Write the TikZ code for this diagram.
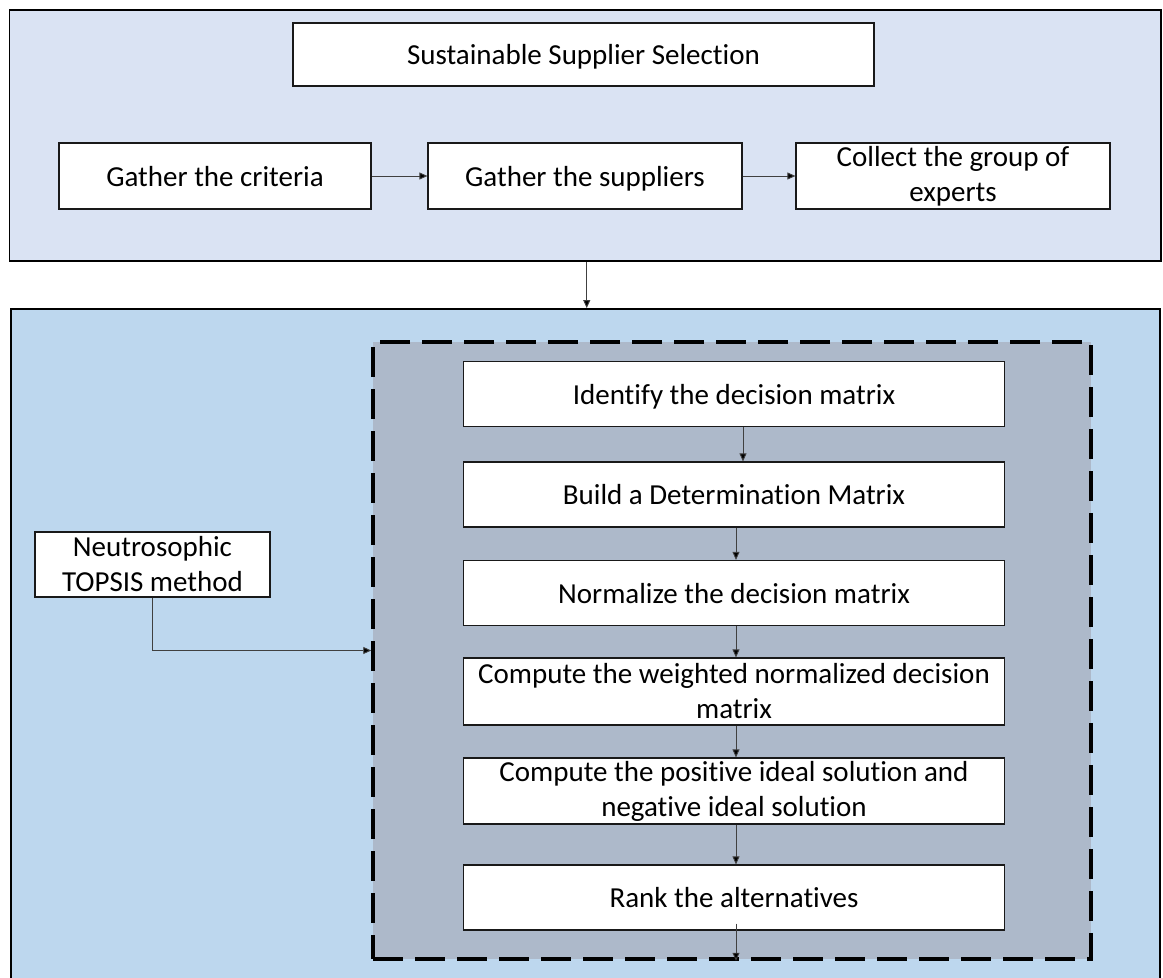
\documentclass[tikz,border=0pt]{standalone}
\usepackage{fontspec}
\setmainfont[Ligatures={NoCommon}]{Carlito}
\usetikzlibrary{arrows.meta}
\definecolor{topfill}{HTML}{DAE3F3}
\definecolor{lowfill}{HTML}{BDD7EE}
\definecolor{dashfill}{HTML}{ADB9CA}
\definecolor{arrgray}{HTML}{404040}
\begin{document}
\begin{tikzpicture}[x=1pt,y=-1pt,
  panel/.style={draw=black,line width=1.8pt,inner sep=0pt},
  stepbox/.style={draw=black!90,fill=white,line width=1.2pt,inner sep=0pt,align=center,
    font=\fontsize{29}{35}\selectfont},
  oneline/.style={text height=22pt,text depth=2pt},
  arr/.style={draw=arrgray,line width=0.9pt,-{Triangle[length=8pt,width=7pt,fill=black]}}]
\useasboundingbox (0,0) rectangle (1163,978);
\clip (0,0) rectangle (1163,978);
% panels
\node[panel,fill=topfill,minimum width=1151.5pt,minimum height=251pt] (top) at (585.25,135.5) {};
\node[panel,fill=lowfill,minimum width=1149pt,minimum height=681pt] (low) at (585.5,649.5) {};
\node[draw=black,fill=dashfill,line width=3.5pt,dash pattern=on 30pt off 12pt,inner sep=0pt,
  minimum width=718pt,minimum height=617pt] (dash) at (732,650.5) {};
% top boxes
\node[stepbox,oneline,minimum width=581pt,minimum height=63pt] (title) at (583.5,54.5) {Sustainable Supplier Selection};
\node[stepbox,oneline,minimum width=312pt,minimum height=66pt] (crit) at (215,176) {Gather the criteria};
\node[stepbox,oneline,minimum width=314pt,minimum height=66pt] (supp) at (585,176) {Gather the suppliers};
\node[stepbox,minimum width=314pt,minimum height=66pt] (exp) at (953,176) {Collect the group of\\experts};
% inner boxes
\node[stepbox,oneline,minimum width=541pt,minimum height=65pt] (ident) at (734,394) {Identify the decision matrix};
\node[stepbox,oneline,minimum width=541pt,minimum height=65pt] (build) at (734,494.5) {Build a Determination Matrix};
\node[stepbox,oneline,minimum width=541pt,minimum height=65pt] (norm) at (734,593) {Normalize the decision matrix};
\node[stepbox,minimum width=541pt,minimum height=67pt] (wnorm) at (734,691.5) {Compute the weighted normalized decision\\matrix};
\node[stepbox,minimum width=541pt,minimum height=66pt] (pis) at (734,791) {Compute the positive ideal solution and\\negative ideal solution};
\node[stepbox,oneline,minimum width=541pt,minimum height=65pt] (rank) at (734,897.5) {Rank the alternatives};
\node[stepbox,minimum width=235pt,minimum height=65pt] (neu) at (152.5,564.5) {Neutrosophic\\TOPSIS method};
% connectors
\draw[arr] (crit.east) -- (supp.west);
\draw[arr] (supp.east) -- (exp.west);
\draw[arr] ([xshift=1.5pt]top.south) -- ([xshift=1.5pt]top.south |- low.north);
\draw[arr] ([xshift=9pt]ident.south) -- ([xshift=9pt]build.north);
\draw[arr] ([xshift=2pt]build.south) -- ([xshift=2pt]norm.north);
\draw[arr] ([xshift=2pt]norm.south) -- ([xshift=2pt]wnorm.north);
\draw[arr] ([xshift=2pt]wnorm.south) -- ([xshift=2pt]pis.north);
\draw[arr] ([xshift=2pt]pis.south) -- ([xshift=2pt]rank.north);
\draw[arr] ([xshift=2pt,yshift=7pt]rank.south) -- ([xshift=2pt]rank.south |- dash.south);
\draw[arr] (neu.south) |- (dash.west);
\end{tikzpicture}
\end{document}
